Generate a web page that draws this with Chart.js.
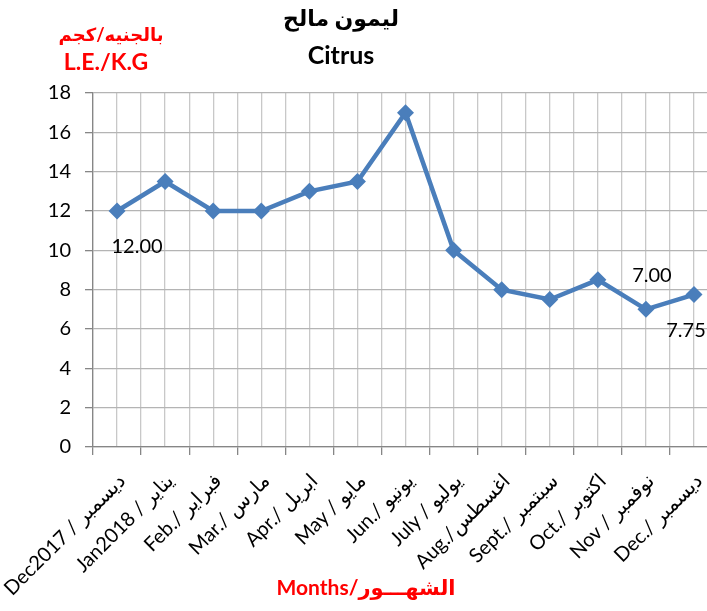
<!DOCTYPE html>
<html>
<head>
<meta charset="utf-8">
<script src="https://cdn.jsdelivr.net/npm/chart.js@4/dist/chart.umd.min.js"></script>
<style>
	html,
	body {
		margin: 0;
		padding: 0;
		background: #fff;
		overflow: hidden;
	}
</style>
</head>
<body>
<canvas id="citrus-chart" width="707" height="611"></canvas>
<script>
// data ------------------------------------------------------------
const months = [
	'Dec2017 / ديسمبر',
	'Jan2018 / يناير',
	'Feb./ فبراير',
	'Mar./ مارس',
	'Apr./ ابريل',
	'May / مايو',
	'Jun./ يونيو',
	'July / يوليو',
	'Aug./اغسطس',
	'Sept./ سبتمبر',
	'Oct./ اكتوبر',
	'Nov / نوفمبر',
	'Dec./ ديسمبر',
]
const prices = [12, 13.5, 12, 12, 13, 13.5, 17, 10, 8, 7.5, 8.5, 7, 7.75]
const yTicks = [0, 2, 4, 6, 8, 10, 12, 14, 16, 18]
const labeledPoints = [0, 11, 12]

const fontFamily = 'Lato, "DejaVu Sans", sans-serif'
const lineBlue = '#4A7EBB'
const red = '#FF0000'

// visible x range (the plot runs off the right edge of the picture)
const xMin = -0.5
const xMax = 12.27

// data label offsets (px) for the labelled points
const labelOffsets = {
	0: [20, 36],
	11: [6, -34],
	12: [-8, 36],
}

const pointLabels = {
	id: 'pointLabels',
	afterDatasetsDraw(chart) {
		const { ctx, scales } = chart
		ctx.save()
		ctx.font = `20px ${fontFamily}`
		ctx.fillStyle = '#000'
		ctx.textAlign = 'center'
		ctx.textBaseline = 'middle'
		labeledPoints.forEach(i => {
			const px = scales.x.getPixelForValue(i)
			const py = scales.y.getPixelForValue(prices[i])
			const [dx, dy] = labelOffsets[i]
			ctx.fillText(prices[i].toFixed(2), px + dx, py + dy)
		})
		ctx.restore()
	},
}

const titles = {
	id: 'titles',
	afterDraw(chart) {
		const ctx = chart.ctx
		ctx.save()
		ctx.textAlign = 'center'
		ctx.textBaseline = 'middle'

		ctx.fillStyle = '#000'
		ctx.font = `bold 22px ${fontFamily}`
		ctx.fillText('ليمون مالح', 341, 19)
		ctx.font = `bold 25px ${fontFamily}`
		ctx.fillText('Citrus', 341, 56)

		ctx.fillStyle = red
		ctx.font = `bold 18px ${fontFamily}`
		ctx.fillText('بالجنيه/كجم', 111, 35)
		ctx.font = `bold 23px ${fontFamily}`
		ctx.fillText('L.E./K.G', 106, 63)

		ctx.font = `bold 21px ${fontFamily}`
		ctx.fillText('Months/الشهـــور', 366, 588)
		ctx.restore()
	},
}

const canvaRef = document.querySelector('#citrus-chart')

const citrusChart = new Chart(canvaRef, {
	type: 'line',
	data: {
		datasets: [
			{
				data: prices.map((v, i) => ({ x: i, y: v })),
				borderColor: lineBlue,
				backgroundColor: lineBlue,
				borderWidth: 4.5,
				pointStyle: 'rectRot',
				pointRadius: 8.5,
				pointBorderWidth: 0,
				tension: 0,
				clip: false,
			},
		],
	},
	options: {
		responsive: false,
		animation: false,
		layout: {
			autoPadding: false,
			padding: { top: 93, left: 0, right: 0, bottom: 0 },
		},
		plugins: {
			legend: { display: false },
			tooltip: { enabled: false },
		},
		scales: {
			x: {
				type: 'linear',
				bounds: 'data',
				min: xMin,
				max: xMax,
				afterBuildTicks: axis => {
					const ticks = []
					for (let k = 0; k <= 25; k++) ticks.push({ value: k / 2 - 0.5 })
					axis.ticks = ticks
					axis.min = xMin
					axis.max = xMax
				},
				afterFit: axis => {
					axis.height = 164
					axis.paddingLeft = 0
					axis.paddingRight = 0
				},
				grid: {
					color: '#C8C8C8',
					lineWidth: 1.3,
					tickLength: 8,
					tickColor: ctx =>
						ctx.tick && Number.isInteger(ctx.tick.value)
							? 'rgba(0,0,0,0)'
							: '#868686',
				},
				border: { color: '#868686', width: 1.3 },
				ticks: {
					autoSkip: false,
					minRotation: 45,
					maxRotation: 45,
					padding: 14,
					labelOffset: 5,
					color: '#000',
					font: { family: fontFamily, size: 20 },
					callback: v => (Number.isInteger(v) ? months[v] : ''),
				},
			},
			y: {
				min: 0,
				max: 18,
				afterBuildTicks: axis => {
					axis.ticks = yTicks.map(v => ({ value: v }))
				},
				afterFit: axis => {
					axis.width = 93
					axis.paddingTop = 0
					axis.paddingBottom = 0
				},
				grid: {
					color: '#B4B4B4',
					lineWidth: 1.3,
					tickLength: 8,
					tickColor: '#868686',
				},
				border: { color: '#868686', width: 1.3 },
				ticks: {
					padding: 14,
					color: '#000',
					font: { family: fontFamily, size: 20 },
				},
			},
		},
	},
	plugins: [pointLabels, titles],
})
</script>
</body>
</html>
